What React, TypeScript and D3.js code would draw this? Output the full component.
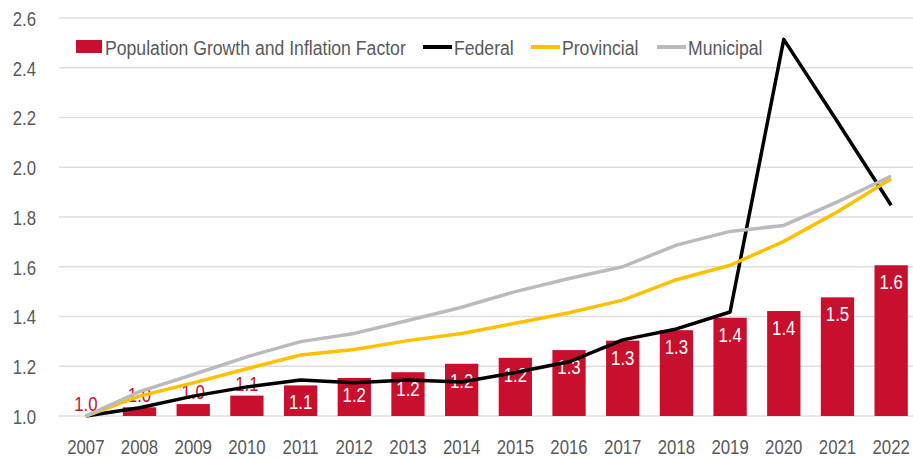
import React from 'react';
import * as d3 from 'd3';

const years = ['2007', '2008', '2009', '2010', '2011', '2012', '2013', '2014', '2015', '2016', '2017', '2018', '2019', '2020', '2021', '2022'];
const growthFactor = [1.0, 1.035, 1.048, 1.082, 1.123, 1.153, 1.176, 1.21, 1.234, 1.265, 1.303, 1.345, 1.395, 1.422, 1.477, 1.606];
const federal = [1.0, 1.033, 1.08, 1.117, 1.145, 1.134, 1.145, 1.137, 1.175, 1.218, 1.306, 1.35, 1.418, 2.514, 2.183, 1.847];
const provincial = [1.0, 1.08, 1.133, 1.19, 1.245, 1.267, 1.303, 1.332, 1.373, 1.415, 1.466, 1.548, 1.606, 1.702, 1.821, 1.954];
const municipal = [1.0, 1.098, 1.167, 1.238, 1.299, 1.332, 1.384, 1.437, 1.5, 1.553, 1.6, 1.687, 1.742, 1.766, 1.861, 1.965];
const yTicks = [1.0, 1.2, 1.4, 1.6, 1.8, 2.0, 2.2, 2.4, 2.6];

const width = 913;
const height = 459;
const font = '"Liberation Sans", Arial, sans-serif';
const textColor = '#595959';
const red = '#C8102E';

const lineSeries = [
  { name: 'Federal', values: federal, color: '#000000' },
  { name: 'Provincial', values: provincial, color: '#FFC000' },
  { name: 'Municipal', values: municipal, color: '#BABBBF' },
];

// narrow text: Liberation Sans squeezed horizontally, close to a condensed face
function T({ x, y, anchor = 'start', fill = textColor, dy, sx = 0.84, children }: any) {
  return (
    <text
      transform={`translate(${x},${y}) scale(${sx},1)`}
      textAnchor={anchor}
      dy={dy}
      fontFamily={font}
      fontSize={21}
      fill={fill}
    >
      {children}
    </text>
  );
}

export default function App() {
  const x = d3.scaleBand().domain(years).range([59, 918]).paddingInner(0.38).paddingOuter(0.19);
  const y = d3.scaleLinear().domain([1.0, 2.6]).range([416, 18]);
  const cx = (i: number) => (x(years[i]) as number) + x.bandwidth() / 2;

  const line = d3
    .line<number>()
    .x((d, i) => cx(i))
    .y(d => y(d));

  const legendY = 47;

  return (
    <svg width={width} height={height} style={{ position: 'absolute', left: 0, top: 0, background: '#fff' }}>
      {/* gridlines + y labels */}
      {yTicks.map(t => (
        <g key={t}>
          <line x1={59} x2={width} y1={y(t)} y2={y(t)} stroke="#dedede" strokeWidth={1.5} />
          <T x={36} y={y(t)} dy="0.38em" anchor="end" sx={0.8}>
            {t.toFixed(1)}
          </T>
        </g>
      ))}

      {/* x labels */}
      {years.map((yr, i) => (
        <T key={yr} x={cx(i)} y={454} anchor="middle" sx={0.8}>
          {yr}
        </T>
      ))}

      {/* bars */}
      {growthFactor.map((v, i) => (
        <rect key={i} x={x(years[i])} y={y(v)} width={x.bandwidth()} height={y(1) - y(v)} fill={red} />
      ))}

      {/* bar labels */}
      {growthFactor.map((v, i) => {
        const h = y(1) - y(v);
        const inside = h > 28;
        return (
          <T
            key={i}
            x={cx(i)}
            y={inside ? y(v) + 24 : y(v) - 5}
            anchor="middle"
            sx={0.8}
            fill={inside ? '#ffffff' : red}
          >
            {v.toFixed(1)}
          </T>
        );
      })}

      {/* lines */}
      {lineSeries.map(s => (
        <path key={s.name} d={line(s.values) || ''} fill="none" stroke={s.color} strokeWidth={3.5} strokeLinejoin="round" />
      ))}

      {/* legend */}
      <rect x={76} y={40} width={26} height={13} fill={red} />
      <T x={105} y={legendY} dy="0.36em">
        Population Growth and Inflation Factor
      </T>
      {lineSeries.map((s, i) => {
        const lx = [423, 531, 657][i];
        return (
          <g key={s.name}>
            <line x1={lx} x2={lx + 29} y1={legendY} y2={legendY} stroke={s.color} strokeWidth={4} />
            <T x={lx + 31} y={legendY} dy="0.36em">
              {s.name}
            </T>
          </g>
        );
      })}
    </svg>
  );
}
